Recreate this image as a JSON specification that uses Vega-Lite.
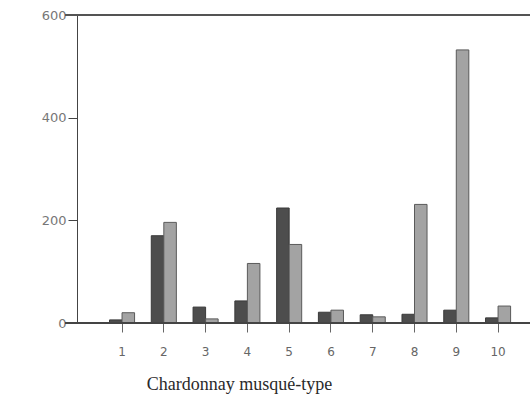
{
  "$schema": "https://vega.github.io/schema/vega-lite/v6.json",
  "width": 465,
  "height": 308,
  "autosize": {"type": "none"},
  "padding": {"left": 65, "top": 15, "right": 0, "bottom": 75},
  "background": "white",
  "config": {"view": {"stroke": null}},
  "data": {
    "values": [
      {"type": "1", "series": "a", "value": 6},
      {"type": "1", "series": "b", "value": 20},
      {"type": "2", "series": "a", "value": 170},
      {"type": "2", "series": "b", "value": 196},
      {"type": "3", "series": "a", "value": 31},
      {"type": "3", "series": "b", "value": 8},
      {"type": "4", "series": "a", "value": 43},
      {"type": "4", "series": "b", "value": 116},
      {"type": "5", "series": "a", "value": 224},
      {"type": "5", "series": "b", "value": 153},
      {"type": "6", "series": "a", "value": 21},
      {"type": "6", "series": "b", "value": 25},
      {"type": "7", "series": "a", "value": 16},
      {"type": "7", "series": "b", "value": 12},
      {"type": "8", "series": "a", "value": 17},
      {"type": "8", "series": "b", "value": 231},
      {"type": "9", "series": "a", "value": 25},
      {"type": "9", "series": "b", "value": 532},
      {"type": "10", "series": "a", "value": 10},
      {"type": "10", "series": "b", "value": 33}
    ]
  },
  "layer": [
    {
      "mark": {"type": "bar", "strokeWidth": 1},
      "encoding": {
        "x": {
          "field": "type",
          "type": "ordinal",
          "sort": ["1","2","3","4","5","6","7","8","9","10"],
          "scale": {"range": [44.5, 445.6], "paddingInner": 0.4, "paddingOuter": 0},
          "axis": {
            "title": "Chardonnay musqué-type",
            "titleFont": "Liberation Serif",
            "titleFontSize": 18,
            "titleFontWeight": "normal",
            "titleColor": "#2a2a2a",
            "titlePadding": 18,
            "titleX": 174,
            "titleAnchor": null,
            "titleAlign": "center",
            "labelAngle": 0,
            "labelFont": "DejaVu Sans",
            "labelFontSize": 12,
            "labelColor": "#666666",
            "labelPadding": 14,
            "domain": false,
            "ticks": true,
            "tickSize": 9,
            "tickColor": "#666666"
          }
        },
        "xOffset": {"field": "series", "type": "nominal", "scale": {"paddingInner": 0}},
        "y": {
          "field": "value",
          "type": "quantitative",
          "scale": {"domain": [0, 600], "nice": false},
          "axis": {
            "title": null,
            "values": [0, 200, 400, 600],
            "grid": false,
            "offset": -12,
            "tickSize": 9,
            "tickColor": "#444444",
            "domainColor": "#444444",
            "labelFont": "DejaVu Sans",
            "labelFontSize": 13,
            "labelColor": "#777777",
            "labelPadding": 2
          }
        },
        "color": {
          "field": "series",
          "type": "nominal",
          "scale": {"domain": ["a", "b"], "range": ["#4d4d4d", "#a3a3a3"]},
          "legend": null
        },
        "stroke": {
          "field": "series",
          "type": "nominal",
          "scale": {"domain": ["a", "b"], "range": ["#3a3a3a", "#5a5a5a"]},
          "legend": null
        }
      }
    },
    {
      "mark": {"type": "rule", "color": "#444444", "strokeWidth": 1.5},
      "encoding": {"y": {"datum": 0, "type": "quantitative"}}
    },
    {
      "mark": {"type": "rule", "color": "#555555", "strokeWidth": 1.5},
      "encoding": {"y": {"datum": 600, "type": "quantitative"}}
    }
  ]
}
